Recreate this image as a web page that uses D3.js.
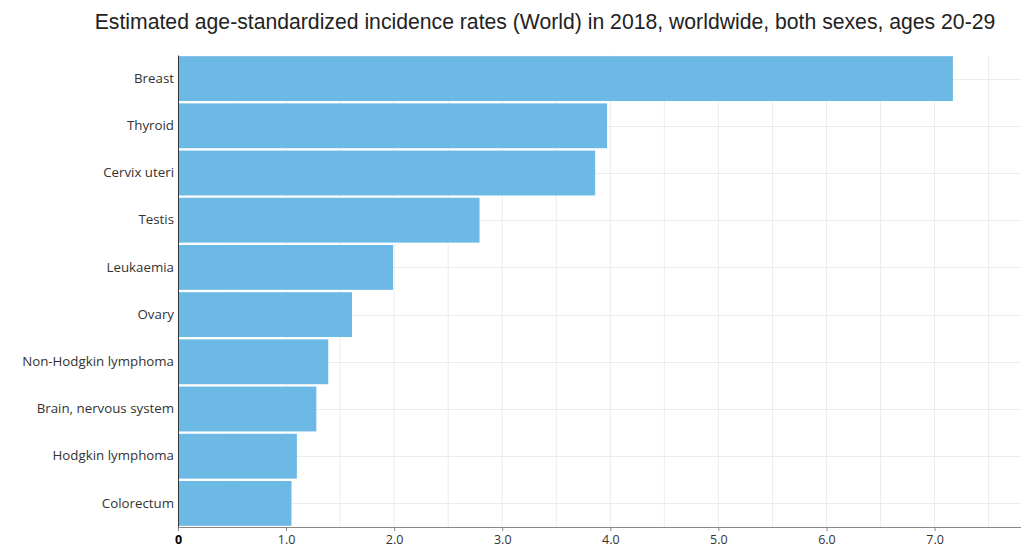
<!DOCTYPE html>
<html><head><meta charset="utf-8">
<script src="https://cdn.jsdelivr.net/npm/d3@7"></script>
<style>body{margin:0;background:#fff;} svg{display:block;}</style>
</head><body>
<svg id="c" width="1023" height="551"></svg>
<script>
const categories = ["Breast","Thyroid","Cervix uteri","Testis","Leukaemia","Ovary","Non-Hodgkin lymphoma","Brain, nervous system","Hodgkin lymphoma","Colorectum"];
const values = [7.17,3.97,3.86,2.79,1.99,1.61,1.39,1.28,1.10,1.05];
const tickValues = [0,1,2,3,4,5,6,7];
const tickLabels = ["0","1.0","2.0","3.0","4.0","5.0","6.0","7.0"];
const title = "Estimated age-standardized incidence rates (World) in 2018, worldwide, both sexes, ages 20-29";

const svg = d3.select("#c");
const m = {l:178, r:1021, t:55, b:527};
const x = d3.scaleLinear().domain([0,7.8]).range([m.l, m.r]);
const y = d3.scaleBand().domain(categories).range([m.t, m.b]).paddingInner(0.05).paddingOuter(0.025);

// grid
const g = svg.append("g");
g.selectAll("line.v").data(d3.range(0.5,7.81,0.5)).enter().append("line")
 .attr("x1",d=>x(d)).attr("x2",d=>x(d)).attr("y1",m.t).attr("y2",m.b)
 .attr("stroke","#ececec").attr("stroke-width",1);
g.selectAll("line.h").data(categories).enter().append("line")
 .attr("x1",m.l).attr("x2",m.r).attr("y1",d=>Math.round(y(d)+y.bandwidth()/2)+0.5).attr("y2",d=>Math.round(y(d)+y.bandwidth()/2)+0.5)
 .attr("stroke","#ececec").attr("stroke-width",1);

// bars
svg.selectAll("rect.bar").data(values).enter().append("rect")
 .attr("x",x(0)).attr("y",(d,i)=>y(categories[i]))
 .attr("width",d=>x(d)-x(0)).attr("height",y.bandwidth())
 .attr("fill","#6cb9e5");

// y axis
const ya = svg.append("g").attr("transform",`translate(${m.l},0)`)
 .call(d3.axisLeft(y).tickSize(0).tickPadding(4));
ya.select(".domain").attr("stroke","#333");
ya.selectAll("text").attr("font-family","Open Sans, sans-serif").attr("font-size","13.3px").attr("fill","#333");

// x axis
const xa = svg.append("g").attr("transform",`translate(0,${m.b})`)
 .call(d3.axisBottom(x).tickValues(tickValues).tickFormat((d,i)=>tickLabels[i]).tickSize(4).tickPadding(4));
xa.select(".domain").attr("stroke","#888").attr("d",`M${m.l},0.5H${m.r}`);
xa.selectAll(".tick line").attr("stroke","#888");
xa.selectAll("text").attr("font-family","Open Sans, sans-serif").attr("font-size","12.5px").attr("fill","#333")
 .attr("font-weight",(d)=>d===0?"bold":"normal").attr("fill",d=>d===0?"#000":"#333");

// title
svg.append("text").attr("x",545).attr("y",29).attr("text-anchor","middle")
 .attr("font-family","Liberation Sans, Arial, sans-serif").attr("font-size","21.2px").attr("fill","#222")
 .text(title);
</script>
</body></html>
